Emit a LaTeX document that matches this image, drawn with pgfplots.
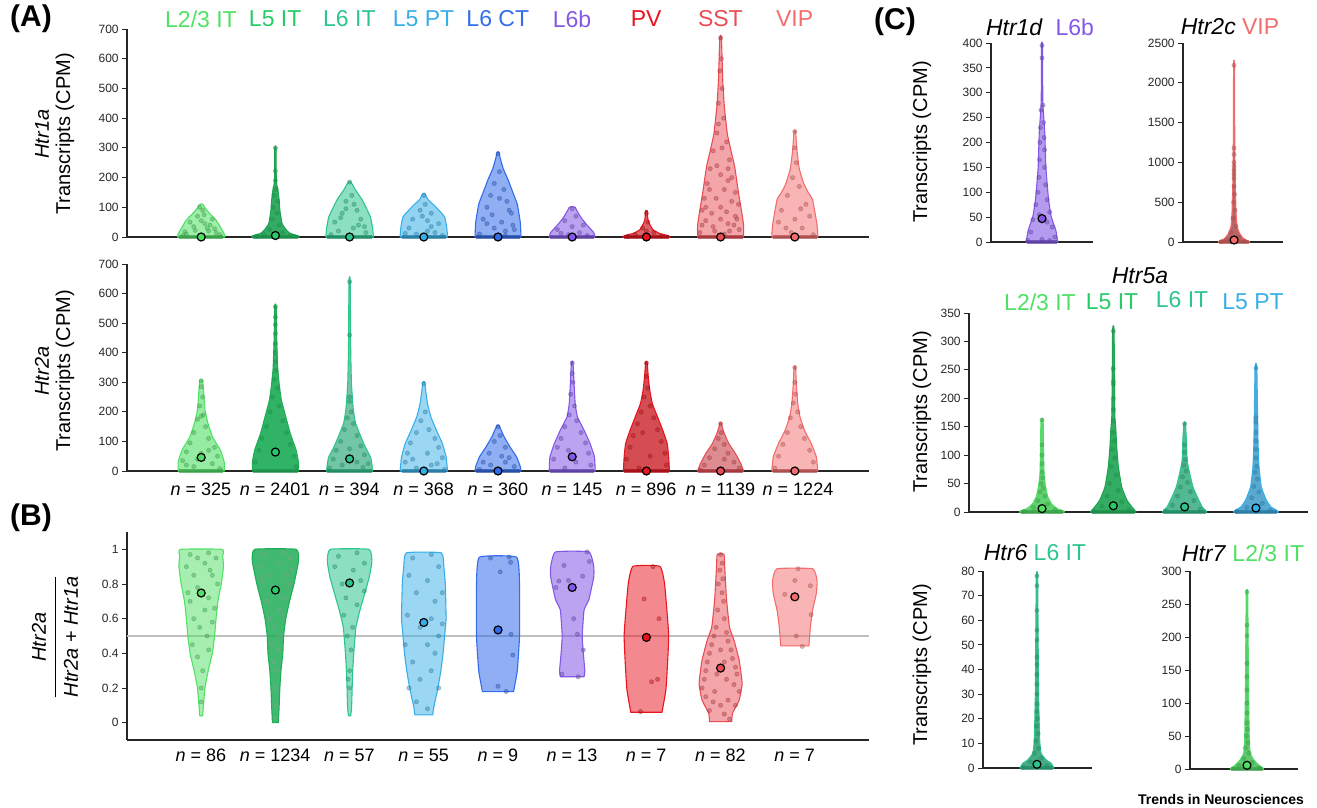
\documentclass[border=0pt]{standalone}
\usepackage{fontspec}
\setmainfont{Liberation Sans}
\usepackage{pgfplots}
\pgfplotsset{compat=1.18}
\definecolor{cA}{HTML}{50E064}
\definecolor{cB}{HTML}{26CC68}
\definecolor{cC}{HTML}{2EC58C}
\definecolor{cD}{HTML}{38AEE8}
\definecolor{cE}{HTML}{336CEB}
\definecolor{cF}{HTML}{8458E6}
\definecolor{cG}{HTML}{E8141E}
\definecolor{cH}{HTML}{EA4C54}
\definecolor{cI}{HTML}{F46C6C}
% violin: center, draw colour, fill colour, fill opacity, list hw/y (bottom to top)
\newcommand{\violin}[5]{%
  \gdef\vR{}\gdef\vL{}%
  \foreach \w/\y in {#5}{%
    \pgfmathsetmacro\xr{#1+\w}\pgfmathsetmacro\xl{#1-\w}%
    \xdef\vR{\vR (\xr,\y) }\xdef\vL{(\xl,\y) \vL}%
  }%
  \edef\tmp{\noexpand\addplot[smooth, tension=0.25, draw=#2, fill=#3, fill opacity=#4, line width=0.55pt, line join=round] coordinates {\vR\vL} -- cycle;}\tmp}
% points: center, colour, list dx/y
\newcommand{\vpts}[3]{%
  \gdef\vP{}%
  \foreach \d/\y in {#3}{%
    \pgfmathsetmacro\xr{#1+\d}\xdef\vP{\vP (\xr,\y) }}%
  \edef\tmp{\noexpand\addplot[only marks, mark=*, mark size=1.05pt, color=#2!70!black, opacity=0.38] coordinates {\vP};}\tmp}
% dense base of points at zero: center, colour, half width
\newcommand{\vbase}[3]{%
  \pgfmathsetmacro\xr{#1+#3}\pgfmathsetmacro\xl{#1-#3}%
  \edef\tmp{\noexpand\addplot[color=#2!70!black, opacity=0.7, line width=1.6pt] coordinates {(\xl,0) (\xr,0)};}\tmp}
\newcommand{\vmean}[3]{\addplot[only marks, mark=*, mark size=2pt, mark options={fill=#2, draw=black, line width=0.6pt}] coordinates {(#1,#3)};}
\pgfplotsset{vstyle/.style={scale only axis, anchor=south west, clip=false,
  axis x line*=bottom, axis y line*=left, xtick=\empty, tick align=outside,
  major tick length=2.5pt, axis line style={line width=0.6pt, black!85, -},
  every tick/.style={black!85, line width=0.5pt},
  yticklabel style={font=\fontsize{6}{7}\selectfont, text=black!85, inner sep=1.5pt},
  /pgf/number format/assume math mode=true, /pgf/number format/1000 sep={},
  scaled y ticks=false}}
\begin{document}
\begin{tikzpicture}
\path[use as bounding box] (0,0) rectangle (658.5pt,-404pt);
% panel letters
\node[font=\bfseries\fontsize{15}{17}\selectfont] at (15.5pt,-9.5pt) {(A)};
\node[font=\bfseries\fontsize{15}{17}\selectfont] at (15.5pt,-259pt) {(B)};
\node[font=\bfseries\fontsize{15}{17}\selectfont] at (447.5pt,-11pt) {(C)};
% category labels (A)
\begin{scope}[every node/.style={font=\fontsize{11.5}{13}\selectfont}]
\node[text=cA] at (100.5pt,-9.5pt) {L2/3 IT};
\node[text=cB] at (137.6pt,-9.5pt) {L5 IT};
\node[text=cC] at (174.7pt,-9.5pt) {L6 IT};
\node[text=cD] at (211.8pt,-9.5pt) {L5 PT};
\node[text=cE] at (248.9pt,-9.5pt) {L6 CT};
\node[text=cF] at (286pt,-9.5pt) {L6b};
\node[text=cG] at (323.1pt,-9.5pt) {PV};
\node[text=cH] at (360.2pt,-9.5pt) {SST};
\node[text=cI] at (397.3pt,-9.5pt) {VIP};
% panel C titles
\node at (520pt,-13.5pt) {\textit{Htr1d}\ \ \textcolor{cF}{L6b}};
\node at (615pt,-13.5pt) {\textit{Htr2c} \textcolor{cI}{VIP}};
\node at (570pt,-138pt) {\textit{Htr5a}};
\node[text=cA] at (520pt,-151pt) {L2/3 IT};
\node[text=cB] at (556pt,-151pt) {L5 IT};
\node[text=cC] at (591pt,-150pt) {L6 IT};
\node[text=cD] at (626.5pt,-151pt) {L5 PT};
\node at (517.5pt,-276.5pt) {\textit{Htr6} \textcolor{cC}{L6 IT}};
\node at (621.5pt,-276.5pt) {\textit{Htr7} \textcolor{cA}{L2/3 IT}};
\end{scope}
% axis labels
\begin{scope}[every node/.style={font=\fontsize{10}{12}\selectfont, rotate=90}]
\node at (21pt,-67pt) {\textit{Htr1a}};
\node at (32.5pt,-67pt) {Transcripts (CPM)};
\node at (21pt,-185.5pt) {\textit{Htr2a}};
\node at (32.5pt,-185.5pt) {Transcripts (CPM)};
\node[inner sep=0pt] at (28.5pt,-318.5pt) {\begin{tabular}{@{}c@{}}\textit{Htr2a}\\[1pt]\hline\rule{0pt}{11pt}\textit{Htr2a} + \textit{Htr1a}\end{tabular}};
\node at (461pt,-71pt) {Transcripts (CPM)};
\node at (461pt,-206pt) {Transcripts (CPM)};
\node at (461pt,-332.5pt) {Transcripts (CPM)};
\end{scope}
% n labels
\begin{scope}[every node/.style={font=\fontsize{9}{11}\selectfont}]
\node at (100.5pt,-244.5pt) {\textit{n} = 325};
\node at (137.6pt,-244.5pt) {\textit{n} = 2401};
\node at (174.7pt,-244.5pt) {\textit{n} = 394};
\node at (211.8pt,-244.5pt) {\textit{n} = 368};
\node at (248.9pt,-244.5pt) {\textit{n} = 360};
\node at (286pt,-244.5pt) {\textit{n} = 145};
\node at (323.1pt,-244.5pt) {\textit{n} = 896};
\node at (360.2pt,-244.5pt) {\textit{n} = 1139};
\node at (399pt,-244.5pt) {\textit{n} = 1224};
\node at (100.5pt,-377.5pt) {\textit{n} = 86};
\node at (137.6pt,-377.5pt) {\textit{n} = 1234};
\node at (174.7pt,-377.5pt) {\textit{n} = 57};
\node at (211.8pt,-377.5pt) {\textit{n} = 55};
\node at (248.9pt,-377.5pt) {\textit{n} = 9};
\node at (286pt,-377.5pt) {\textit{n} = 13};
\node at (323.1pt,-377.5pt) {\textit{n} = 7};
\node at (360.2pt,-377.5pt) {\textit{n} = 82};
\node at (397.3pt,-377.5pt) {\textit{n} = 7};
\end{scope}
\node[font=\bfseries\fontsize{7}{8}\selectfont] at (610.5pt,-399.5pt) {Trends in Neurosciences};

% ===== A1: Htr1a =====
\begin{axis}[vstyle, at={(63.5pt,-118.5pt)}, width=371pt, height=104pt,
  xmin=-1, xmax=9, ymin=0, ymax=700, ytick={0,100,...,700}]
\violin{0}{cA}{cA}{0.55}{0.32/0, 0.32/5, 0.29/20, 0.2/57, 0.11/80, 0.05/98, 0.03/108, 0.01/111}
\vpts{0}{cA}{-0.2/10, 0.1/20, 0.05/45, -0.1/35, 0.15/60, -0.05/70, 0.02/90, 0.2/15, -0.25/5, 0.08/30, -0.15/50, 0.12/40, 0/55, -0.02/100, 0.25/8, -0.08/22, 0.18/28, -0.22/18, 0.04/75}
\vbase{0}{cA}{0.3}
\vmean{0}{cA}{0}
\violin{1}{cB!80!black}{cB!80!black}{0.9}{0.32/0, 0.31/4, 0.2/12, 0.15/23, 0.09/45, 0.06/90, 0.05/125, 0.03/165, 0.012/185, 0.008/300}
\vpts{1}{cB}{0/300, 0/222, 0/190, 0.01/160, -0.02/140, 0.03/120, -0.03/100, 0.02/80, -0.04/60, 0.05/40, -0.08/25, 0.1/15, -0.15/8, 0.2/4, -0.25/2}
\vbase{1}{cB}{0.3}
\vmean{1}{cB}{5}
\violin{2}{cC}{cC}{0.55}{0.32/0, 0.31/30, 0.28/68, 0.22/100, 0.17/125, 0.08/158, 0.03/180, 0.01/186}
\vpts{2}{cC}{0/185, 0.03/140, -0.05/120, 0.1/90, -0.1/80, 0.15/60, -0.2/50, 0.05/30, -0.15/20, 0.22/15, 0/5, -0.25/8, 0.12/40, -0.05/95, 0.2/35, -0.12/65, 0.06/110}
\vbase{2}{cC}{0.3}
\vmean{2}{cC}{0}
\violin{3}{cD}{cD}{0.55}{0.32/0, 0.31/30, 0.28/68, 0.15/104, 0.06/125, 0.02/143, 0.01/147}
\vpts{3}{cD}{0/140, 0.02/110, -0.05/90, 0.1/80, -0.15/60, 0.2/45, -0.2/30, 0.05/20, -0.1/10, 0.25/5, 0.1/35, -0.02/70, 0.15/15, -0.25/12, 0.05/55}
\vbase{3}{cD}{0.3}
\vmean{3}{cD}{0}
\violin{4}{cE}{cE}{0.55}{0.31/0, 0.3/50, 0.26/110, 0.2/150, 0.14/190, 0.07/230, 0.03/265, 0.01/286}
\vpts{4}{cE}{0/280, 0.02/220, -0.05/180, 0.08/160, -0.1/140, 0.12/120, -0.15/100, 0.18/80, -0.2/60, 0.05/50, -0.05/30, 0.22/25, -0.25/10, 0.1/5, 0.15/90, -0.08/75, 0.2/40, -0.15/45, 0.02/130, 0.1/20}
\vbase{4}{cE}{0.3}
\vmean{4}{cE}{0}
\violin{5}{cF}{cF}{0.55}{0.31/0, 0.29/15, 0.2/40, 0.12/65, 0.06/90, 0.04/100, 0.01/102}
\vpts{5}{cF}{0/95, 0.05/70, -0.1/55, 0.15/40, -0.2/25, 0.1/15, -0.05/8, 0.2/5, 0/35, -0.15/12}
\vbase{5}{cF}{0.3}
\vmean{5}{cF}{0}
\violin{6}{cG}{cG!85!black}{0.65}{0.32/0, 0.3/4, 0.18/12, 0.09/24, 0.04/45, 0.02/60, 0.01/89}
\vpts{6}{cG}{0/80, 0.02/50, -0.05/30, 0.1/15, -0.15/8, 0.2/3, 0/20, -0.25/2}
\vbase{6}{cG}{0.3}
\vmean{6}{cG}{0}
\violin{7}{cH}{cH}{0.5}{0.31/0, 0.31/40, 0.28/90, 0.24/150, 0.19/236, 0.14/290, 0.09/348, 0.05/440, 0.03/520, 0.02/600, 0.01/675}
\vpts{7}{cH}{0/670, 0.01/600, -0.01/560, 0.02/500, -0.03/450, 0.04/400, -0.05/350, 0.08/320, -0.1/290, 0.12/260, -0.14/230, 0.15/200, -0.18/180, 0.2/150, -0.22/130, 0.24/110, -0.25/90, 0.2/70, -0.2/55, 0.1/45, -0.1/35, 0.25/25, -0.28/15, 0.05/10, 0/100, 0.05/160, -0.05/240, 0.1/190, -0.12/80, 0.15/120, 0/60, -0.08/20, 0.08/85, -0.15/160, 0.02/300, 0/210, 0.18/40, -0.2/100, 0.1/230, -0.06/130, 0.22/60, -0.25/40, 0.12/20, -0.03/380}
\vbase{7}{cH}{0.3}
\vmean{7}{cH}{0}
\violin{8}{cI}{cI}{0.5}{0.31/0, 0.3/40, 0.24/125, 0.18/150, 0.12/180, 0.06/230, 0.03/290, 0.015/340, 0.01/357}
\vpts{8}{cI}{0/355, 0/300, 0.02/250, -0.03/200, 0.06/170, -0.1/140, 0.15/110, -0.18/90, 0.2/70, -0.22/50, 0.1/30, -0.05/15, 0.25/8, 0/60, -0.12/30, 0.08/95}
\vbase{8}{cI}{0.3}
\vmean{8}{cI}{0}
\end{axis}

% ===== A2: Htr2a =====
\begin{axis}[vstyle, at={(63.5pt,-235.5pt)}, width=371pt, height=103.5pt,
  xmin=-1, xmax=9, ymin=0, ymax=700, ytick={0,100,...,700}]
\violin{0}{cA}{cA}{0.6}{0.31/0, 0.31/30, 0.26/70, 0.2/95, 0.15/117, 0.09/162, 0.05/208, 0.03/275, 0.02/305, 0.01/308}
\vpts{0}{cA}{0/305, 0/285, 0.02/250, -0.02/220, 0.03/190, -0.05/175, 0.06/150, -0.1/130, 0.1/110, -0.15/95, 0.18/80, -0.2/65, 0.22/50, -0.25/35, 0.15/25, -0.1/15, 0.25/8, 0/60, 0/185, -0.05/40, 0.1/70, -0.2/20}
\vbase{0}{cA}{0.3}
\vmean{0}{cA}{46}
\violin{1}{cB!85!black}{cB!85!black}{0.92}{0.31/0, 0.31/30, 0.28/70, 0.2/127, 0.14/183, 0.08/240, 0.05/296, 0.03/352, 0.015/465, 0.01/560}
\vpts{1}{cB}{0/555, 0/520, 0/495, 0/465, 0/430, 0/400, 0/370, 0.01/340, -0.02/310, 0.03/280, -0.04/250, 0.05/220, -0.07/200, 0.1/170, -0.12/150, 0.15/130, -0.18/110, 0.2/90, -0.22/70, 0.25/50, -0.27/30, 0.28/15}
\vbase{1}{cB}{0.3}
\vmean{1}{cB}{64}
\violin{2}{cC}{cC!85!black}{0.65}{0.31/0, 0.3/25, 0.28/48, 0.21/82, 0.15/117, 0.08/162, 0.05/208, 0.025/296, 0.015/410, 0.008/645}
\vpts{2}{cC}{0/640, 0/460, 0/250, 0/235, 0.02/200, -0.03/180, 0.05/160, -0.07/140, 0.1/120, -0.12/100, 0.15/85, -0.18/70, 0.2/55, -0.22/40, 0.25/25, -0.27/10, 0.1/30, 0/75, -0.1/20, 0.18/12}
\vbase{2}{cC}{0.3}
\vmean{2}{cC}{41}
\violin{3}{cD}{cD}{0.5}{0.32/0, 0.31/25, 0.3/48, 0.25/93, 0.17/138, 0.095/183, 0.05/228, 0.025/273, 0.01/302}
\vpts{3}{cD}{0/295, 0.02/200, -0.04/170, 0.07/140, -0.1/130, 0.15/110, -0.18/95, 0.2/80, -0.22/60, 0.25/45, -0.25/30, 0.1/20, -0.1/10, 0.28/5, 0.05/60, -0.15/40, 0.18/25}
\vbase{3}{cD}{0.3}
\vmean{3}{cD}{0}
\violin{4}{cE}{cE}{0.55}{0.31/0, 0.3/15, 0.25/48, 0.16/82, 0.08/117, 0.04/140, 0.01/155}
\vpts{4}{cE}{0/150, 0.03/120, -0.05/100, 0.1/80, -0.12/60, 0.15/45, -0.2/30, 0.22/15, -0.25/5, 0.05/50, -0.1/20, 0.1/30}
\vbase{4}{cE}{0.3}
\vmean{4}{cE}{0}
\violin{5}{cF}{cF}{0.55}{0.31/0, 0.3/48, 0.24/93, 0.16/138, 0.07/183, 0.04/228, 0.025/296, 0.01/368}
\vpts{5}{cF}{0/365, 0/330, 0.01/300, -0.02/260, 0.03/220, -0.04/190, 0.06/170, -0.1/150, 0.12/130, -0.15/110, 0.18/95, -0.2/80, 0.22/60, -0.25/40, 0.25/20, -0.1/10, 0.05/30, -0.05/70}
\vbase{5}{cF}{0.3}
\vmean{5}{cF}{48}
\violin{6}{cG}{cG!85!black}{0.75}{0.31/0, 0.3/48, 0.28/93, 0.22/138, 0.15/183, 0.08/228, 0.045/273, 0.025/318, 0.01/368}
\vpts{6}{cG}{0/365, 0/320, 0.02/280, -0.03/250, 0.05/220, -0.07/200, 0.1/180, -0.12/160, 0.15/140, -0.18/120, 0.2/100, -0.22/80, 0.25/60, -0.27/40, 0.27/20, -0.1/10, 0.05/50, -0.05/130}
\vbase{6}{cG}{0.3}
\vmean{6}{cG}{0}
\violin{7}{cH}{cH!85!black}{0.6}{0.31/0, 0.27/26, 0.2/59, 0.11/93, 0.05/127, 0.02/150, 0.01/163}
\vpts{7}{cH}{0/160, 0.01/130, -0.03/110, 0.05/90, -0.08/75, 0.1/60, -0.15/45, 0.18/30, -0.22/20, 0.25/10, -0.27/4, 0.05/40}
\vbase{7}{cH}{0.3}
\vmean{7}{cH}{0}
\violin{8}{cI}{cI}{0.5}{0.31/0, 0.29/48, 0.22/93, 0.13/138, 0.07/183, 0.04/228, 0.02/296, 0.01/352}
\vpts{8}{cI}{0/350, 0/300, 0.01/260, -0.02/230, 0.04/200, -0.06/180, 0.08/150, -0.1/130, 0.13/110, -0.16/90, 0.2/70, -0.22/50, 0.25/30, -0.27/10}
\vbase{8}{cI}{0.3}
\vmean{8}{cI}{0}
\end{axis}

% ===== B: ratio =====
\begin{axis}[vstyle, at={(63.5pt,-370pt)}, width=371pt, height=104pt,
  xmin=-1, xmax=9, ymin=-0.1, ymax=1.1, ytick={0,0.2,0.4,0.6,0.8,1}]
\addplot[black!25, line width=0.6pt] coordinates {(-1,0.5) (9,0.5)};
\violin{0}{cA}{cA}{0.5}{0.02/0.04, 0.03/0.1, 0.05/0.2, 0.095/0.3, 0.15/0.4, 0.18/0.5, 0.2/0.6, 0.225/0.7, 0.27/0.8, 0.3/0.9, 0.29/0.96, 0.28/1}
\vpts{0}{cA}{0.1/0.98, -0.15/0.97, 0.2/0.95, -0.2/0.9, 0.05/0.92, 0.15/0.85, -0.1/0.85, 0.22/0.8, -0.05/0.78, 0.1/0.72, -0.15/0.7, 0.05/0.65, -0.1/0.6, 0.15/0.58, -0.02/0.55, 0.08/0.5, -0.12/0.45, 0.1/0.42, -0.05/0.38, 0.02/0.3, 0/0.2, 0/0.12, -0.18/0.75, 0.18/0.66, -0.05/0.95, 0.12/0.88}
\vmean{0}{cA}{0.748}
\violin{1}{cB!85!black}{cB!85!black}{0.85}{0.04/0, 0.05/0.09, 0.06/0.2, 0.075/0.3, 0.1/0.4, 0.11/0.5, 0.14/0.6, 0.19/0.7, 0.25/0.8, 0.31/0.93, 0.28/1}
\vpts{1}{cB!40!white}{0.1/0.98, -0.15/0.97, 0.2/0.95, -0.2/0.9, 0.05/0.92, 0.15/0.85, -0.1/0.85, 0.22/0.88, -0.05/0.78, 0.1/0.72, -0.12/0.7, 0.05/0.65, -0.08/0.6, 0.1/0.62, -0.02/0.55, 0.06/0.5, -0.05/0.45, 0.04/0.42, -0.02/0.35, 0.02/0.3, 0/0.2, 0.01/0.1, 0/0.03, -0.18/0.82, 0.18/0.8}
\vmean{1}{cB}{0.765}
\violin{2}{cC}{cC}{0.55}{0.015/0.04, 0.027/0.09, 0.04/0.28, 0.056/0.4, 0.085/0.55, 0.14/0.65, 0.2/0.74, 0.265/0.84, 0.3/0.93, 0.26/1}
\vpts{2}{cC}{0.1/0.98, -0.15/0.96, 0.2/0.92, -0.2/0.9, 0.05/0.88, 0.15/0.82, -0.1/0.8, 0.2/0.76, -0.05/0.72, 0.1/0.68, -0.08/0.62, 0.04/0.55, -0.03/0.5, 0.02/0.42, 0/0.3, -0.02/0.25, 0/0.2}
\vmean{2}{cC}{0.806}
\violin{3}{cD}{cD}{0.5}{0.12/0.045, 0.135/0.09, 0.19/0.2, 0.23/0.3, 0.26/0.4, 0.28/0.5, 0.3/0.6, 0.29/0.8, 0.27/0.9, 0.235/0.98}
\vpts{3}{cD}{0.1/0.97, -0.15/0.95, 0.2/0.9, -0.2/0.85, 0.05/0.82, 0.25/0.75, -0.1/0.75, 0.15/0.7, -0.22/0.62, 0.1/0.6, -0.05/0.55, 0.2/0.5, -0.25/0.45, 0.05/0.45, 0.15/0.4, -0.15/0.35, 0.1/0.3, -0.05/0.25, 0.2/0.2, -0.1/0.12, 0.05/0.08, -0.2/0.2, 0.25/0.57}
\vmean{3}{cD}{0.578}
\violin{4}{cE}{cE}{0.55}{0.21/0.179, 0.26/0.3, 0.29/0.5, 0.29/0.8, 0.25/0.955}
\vpts{4}{cE}{-0.1/0.95, 0.15/0.955, 0.17/0.925, 0.03/0.87, 0.175/0.51, 0.2/0.39, 0/0.21, 0.11/0.18}
\vmean{4}{cE}{0.535}
\violin{5}{cF}{cF}{0.55}{0.16/0.265, 0.17/0.3, 0.15/0.4, 0.135/0.5, 0.16/0.65, 0.225/0.71, 0.29/0.84, 0.29/0.9, 0.225/0.985}
\vpts{5}{cF}{-0.11/0.907, 0.23/0.93, -0.18/0.817, -0.05/0.82, 0.14/0.845, -0.22/0.78, 0.2/0.985, 0.07/0.51, 0.15/0.42, -0.14/0.28, 0.08/0.265, 0.02/0.6}
\vmean{5}{cF}{0.78}
\violin{6}{cG}{cG}{0.5}{0.21/0.06, 0.265/0.2, 0.3/0.5, 0.245/0.8, 0.18/0.902}
\vpts{6}{cG}{0.09/0.9, -0.03/0.714, 0.17/0.6, 0.07/0.236, 0.15/0.25, -0.08/0.064}
\vmean{6}{cG}{0.492}
\violin{7}{cH}{cH}{0.5}{0.15/0.006, 0.16/0.054, 0.25/0.13, 0.29/0.226, 0.25/0.36, 0.18/0.476, 0.12/0.55, 0.08/0.71, 0.055/0.9, 0.045/0.971}
\vpts{7}{cH}{0/0.97, 0.02/0.92, -0.01/0.88, 0.03/0.83, -0.03/0.8, 0.02/0.75, 0.04/0.7, -0.04/0.65, 0.05/0.6, -0.06/0.55, 0.08/0.52, -0.09/0.5, 0.1/0.47, -0.12/0.45, 0.14/0.42, -0.15/0.4, 0.16/0.37, -0.18/0.35, 0.2/0.32, -0.2/0.3, 0.22/0.28, -0.22/0.25, 0.18/0.22, -0.25/0.2, 0.25/0.18, -0.2/0.15, 0.1/0.13, -0.1/0.12, 0.2/0.1, -0.15/0.07, 0.05/0.05, 0.12/0.02, -0.05/0.28, 0.05/0.35, 0/0.42, -0.08/0.18, 0.08/0.25, 0/0.1}
\vmean{7}{cH}{0.315}
\violin{8}{cI}{cI}{0.5}{0.19/0.443, 0.21/0.553, 0.24/0.65, 0.29/0.745, 0.3/0.82, 0.24/0.888}
\vpts{8}{cI}{0.045/0.888, 0/0.82, 0.21/0.79, -0.135/0.74, 0.22/0.623, 0.02/0.5, 0.1/0.44}
\vmean{8}{cI}{0.726}
\end{axis}

% ===== C: Htr1d =====
\begin{axis}[vstyle, at={(495.5pt,-121pt)}, width=51pt, height=99.5pt,
  xmin=-1, xmax=1, ymin=0, ymax=400, ytick={0,50,...,400}]
\violin{0}{cF}{cF}{0.6}{0.31/0, 0.27/24, 0.18/51, 0.13/84, 0.1/118, 0.075/151, 0.065/185, 0.055/218, 0.033/252, 0.015/285, 0.01/396}
\vpts{0}{cF}{0/395, 0/370, 0.02/275, -0.02/265, 0.03/240, -0.03/230, 0.04/210, -0.04/200, 0.05/185, -0.05/165, 0.05/150, -0.06/130, 0.07/115, -0.08/100, 0.1/85, -0.12/75, 0.15/60, -0.18/45, 0.2/30, -0.22/20, 0.25/10, -0.28/3, 0.1/40, -0.05/55, 0/5, 0.15/3}
\vbase{0}{cF}{0.3}
\vmean{0}{cF}{47}
\end{axis}
% ===== C: Htr2c =====
\begin{axis}[vstyle, at={(591.5pt,-121pt)}, width=50pt, height=99.5pt,
  xmin=-1, xmax=0.96, ymin=0, ymax=2500, ytick={0,500,...,2500}]
\violin{0}{cI}{cI!70!black}{0.85}{0.31/0, 0.18/46, 0.11/109, 0.06/193, 0.04/360, 0.025/695, 0.015/1155, 0.008/2230}
\vpts{0}{cI}{0/2220, 0/1180, 0/1100, 0/1000, 0/950, 0/900, 0/850, 0/800, 0/700, 0.01/600, -0.01/500, 0.02/400, -0.02/300, 0.04/200, -0.06/120, 0.1/60, -0.15/30, 0.2/10, -0.25/5}
\vbase{0}{cI}{0.3}
\vmean{0}{cI}{25}
\end{axis}
% ===== C: Htr5a =====
\begin{axis}[vstyle, at={(484.5pt,-256pt)}, width=169.5pt, height=99.5pt,
  xmin=-1.024, xmax=3.73, ymin=0, ymax=350, ytick={0,50,...,350}]
\violin{0}{cA}{cA!90!black}{0.85}{0.315/0, 0.3/2, 0.21/6, 0.13/15, 0.08/27, 0.05/44, 0.028/68, 0.02/110, 0.015/162}
\vpts{0}{cA}{0/162, 0/118, 0/100, 0/85, 0/70, 0.01/60, -0.01/50, 0.02/42, -0.03/35, 0.04/28, -0.06/20, 0.08/14, -0.12/8, 0.18/4, -0.25/1}
\vbase{0}{cA}{0.3}
\vmean{0}{cA}{6}
\violin{1}{cB!80!black}{cB!80!black}{0.9}{0.32/0, 0.3/3, 0.26/9, 0.19/21, 0.117/44, 0.07/80, 0.047/115, 0.035/145, 0.02/173, 0.01/320}
\vpts{1}{cB}{0/318, 0/252, 0/230, 0/225, 0/200, 0/180, 0/160, 0/140, 0.01/125, -0.01/110, 0.02/95, -0.03/80, 0.04/65, -0.05/50, 0.07/38, -0.09/28, 0.12/18, -0.16/10, 0.22/4, -0.28/1}
\vbase{1}{cB}{0.3}
\vmean{1}{cB}{11}
\violin{2}{cC}{cC!85!black}{0.8}{0.31/0, 0.29/3, 0.245/9, 0.175/27, 0.117/44, 0.07/68, 0.035/91, 0.025/127, 0.01/157}
\vpts{2}{cC}{0/155, 0/118, 0/105, 0.01/92, -0.01/82, 0.02/72, -0.03/62, 0.04/52, -0.06/44, 0.08/36, -0.1/28, 0.13/20, -0.17/12, 0.22/5, -0.27/2}
\vbase{2}{cC}{0.3}
\vmean{2}{cC}{9}
\violin{3}{cD}{cD!85!black}{0.8}{0.315/0, 0.29/3, 0.21/9, 0.145/21, 0.075/44, 0.042/80, 0.028/127, 0.012/255}
\vpts{3}{cD}{0/253, 0/166, 0/158, 0/140, 0/125, 0/110, 0/95, 0.01/80, -0.01/70, 0.02/58, -0.03/45, 0.04/35, -0.06/25, 0.09/15, -0.13/8, 0.2/3, -0.27/1}
\vbase{3}{cD}{0.3}
\vmean{3}{cD}{7}
\end{axis}
% ===== C: Htr6 =====
\begin{axis}[vstyle, at={(491.5pt,-384pt)}, width=54.5pt, height=98.5pt,
  xmin=-0.99, xmax=1.01, ymin=0, ymax=80, ytick={0,10,...,80}]
\violin{0}{cC}{cC!80!black}{0.85}{0.31/0, 0.29/0.8, 0.26/1.9, 0.17/3.25, 0.076/6, 0.05/11.3, 0.03/29, 0.02/56, 0.012/78.6}
\vpts{0}{cC}{0/78, 0/74, 0/64, 0/56, 0/52, 0/45, 0/42, 0/38, 0/34, 0/30, 0/26, 0/23, 0.01/20, -0.01/17, 0.02/14, -0.02/11, 0.03/8, -0.05/6, 0.08/4, -0.12/2.5, 0.18/1, -0.25/0.4}
\vbase{0}{cC}{0.3}
\vmean{0}{cC}{1.5}
\end{axis}
% ===== C: Htr7 =====
\begin{axis}[vstyle, at={(595pt,-384.5pt)}, width=54pt, height=99pt,
  xmin=-1.055, xmax=0.945, ymin=0, ymax=300, ytick={0,50,...,300}]
\violin{0}{cA}{cA!85!black}{0.85}{0.31/0, 0.29/2, 0.215/6, 0.125/14, 0.06/24, 0.043/44, 0.03/109, 0.02/210, 0.012/269}
\vpts{0}{cA}{0/268, 0/218, 0/202, 0/160, 0/140, 0/120, 0/100, 0/85, 0/70, 0.01/60, -0.01/50, 0.02/40, -0.03/32, 0.04/24, -0.06/16, 0.1/10, -0.15/5, 0.22/2}
\vbase{0}{cA}{0.3}
\vmean{0}{cA}{5.6}
\end{axis}
\end{tikzpicture}
\end{document}
